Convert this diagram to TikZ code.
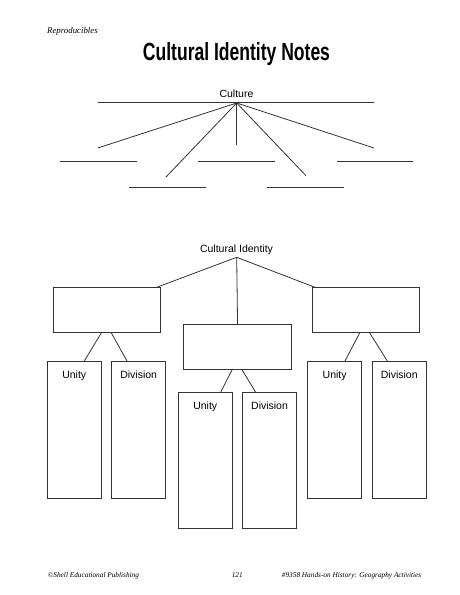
\documentclass[tikz,border=0pt]{standalone}
\usepackage{fontspec}
\setmainfont{Liberation Serif}
\setsansfont{Liberation Sans}
\usetikzlibrary{calc}
\begin{document}
\begin{tikzpicture}[x=1pt,y=-1pt,
  ln/.style={line width=0.8pt,draw=black!80},
  box/.style={ln,rectangle,inner sep=0pt,anchor=north west},
  lbl/.style={font=\sffamily\fontsize{10.5}{12}\selectfont,inner sep=0pt},
  foot/.style={font=\itshape\fontsize{7.3}{9}\selectfont,inner sep=0pt,anchor=base west}]
\useasboundingbox (0,0) rectangle (460,595);
% header
\node[font=\itshape\fontsize{8.8}{10}\selectfont,inner sep=0pt,anchor=base west] (rep) at (47,33) {Reproducibles};
\node[inner sep=0pt,anchor=base] (title) at (236.5,60) {\resizebox{187pt}{18pt}{\sffamily\bfseries Cultural Identity Notes}};
% Culture spider
\node[lbl,anchor=base] (culture) at (236.5,97) {Culture};
\coordinate (c) at (236.7,103);
\coordinate (tl) at (97.7,102.3);
\coordinate (tr) at (374,102.3);
\draw[ln] (tl) -- (tr);
\coordinate (e1) at (97.7,148);
\coordinate (e2) at (166,177);
\coordinate (e3) at (236.7,144.7);
\coordinate (e4) at (306,175.7);
\coordinate (e5) at (374,148);
\foreach \e in {e1,e2,e3,e4,e5} \draw[ln] (c) -- (\e);
% blank lines
\coordinate (b1a) at (60,161.3);   \coordinate (b1b) at (136.7,161.3);
\coordinate (b2a) at (198.3,161.3); \coordinate (b2b) at (275,161.3);
\coordinate (b3a) at (336.7,161.3); \coordinate (b3b) at (412.7,161.3);
\coordinate (b4a) at (129,187.3);  \coordinate (b4b) at (205.7,187.3);
\coordinate (b5a) at (267.3,187.3); \coordinate (b5b) at (344,187.3);
\draw[ln] (b1a) -- (b1b) (b2a) -- (b2b) (b3a) -- (b3b) (b4a) -- (b4b) (b5a) -- (b5b);
% Cultural identity tree
\node[lbl,anchor=base] (ci) at (236.5,252) {Cultural Identity};
\coordinate (apex) at (236.7,257.3);
\node[box,minimum width=107.6pt,minimum height=45pt] (L) at (52.7,287.3) {};
\node[box,minimum width=107.6pt,minimum height=45pt] (R) at (311.7,287.3) {};
\node[box,minimum width=107.7pt,minimum height=45pt] (C) at (183.3,324.3) {};
\coordinate (lt) at (156.7,287.3);
\coordinate (rt) at (315,287.3);
\draw[ln] (lt) -- (apex) -- (rt);
\draw[ln] (apex) -- (C.north);
% tall boxes
\node[box,minimum width=53.7pt,minimum height=136.7pt] (LU) at (47,361) {};
\node[box,minimum width=54pt,minimum height=136.7pt] (LD) at (111.3,361) {};
\node[box,minimum width=54pt,minimum height=136.7pt] (RU) at (307.3,361) {};
\node[box,minimum width=53.7pt,minimum height=136.7pt] (RD) at (372,361) {};
\node[box,minimum width=53.7pt,minimum height=136pt] (CU) at (178,392.3) {};
\node[box,minimum width=53.7pt,minimum height=136pt] (CD) at (242.3,392.3) {};
\node[lbl,anchor=base] (lul) at (LU.north |- 0,378) {Unity};
\node[lbl,anchor=base] (ldl) at (LD.north |- 0,378) {Division};
\node[lbl,anchor=base] (rul) at (RU.north |- 0,378) {Unity};
\node[lbl,anchor=base] (rdl) at (RD.north |- 0,378) {Division};
\node[lbl,anchor=base] (cul) at (CU.north |- 0,409) {Unity};
\node[lbl,anchor=base] (cdl) at (CD.north |- 0,409) {Division};
% legs
\coordinate (l1) at (101.7,332.3); \coordinate (l1e) at (84.3,361);
\coordinate (l2) at (111,332.3);   \coordinate (l2e) at (127,361);
\coordinate (r1) at (360,332.3);   \coordinate (r1e) at (345,361);
\coordinate (r2) at (369.3,332.3); \coordinate (r2e) at (387.3,361);
\coordinate (m1) at (232.3,369.3); \coordinate (m1e) at (220.7,392.3);
\coordinate (m2) at (241.7,369.3); \coordinate (m2e) at (255.7,392.3);
\draw[ln] (l1) -- (l1e) (l2) -- (l2e) (r1) -- (r1e) (r2) -- (r2e) (m1) -- (m1e) (m2) -- (m2e);
% footer
\node[foot] (f1) at (47.7,577) {©Shell Educational Publishing};
\node[foot,anchor=base] (f2) at (237.3,577) {121};
\node[foot] (f3) at (281.7,577) {\#9358 Hands-on History: Geography Activities};
\end{tikzpicture}
\end{document}
